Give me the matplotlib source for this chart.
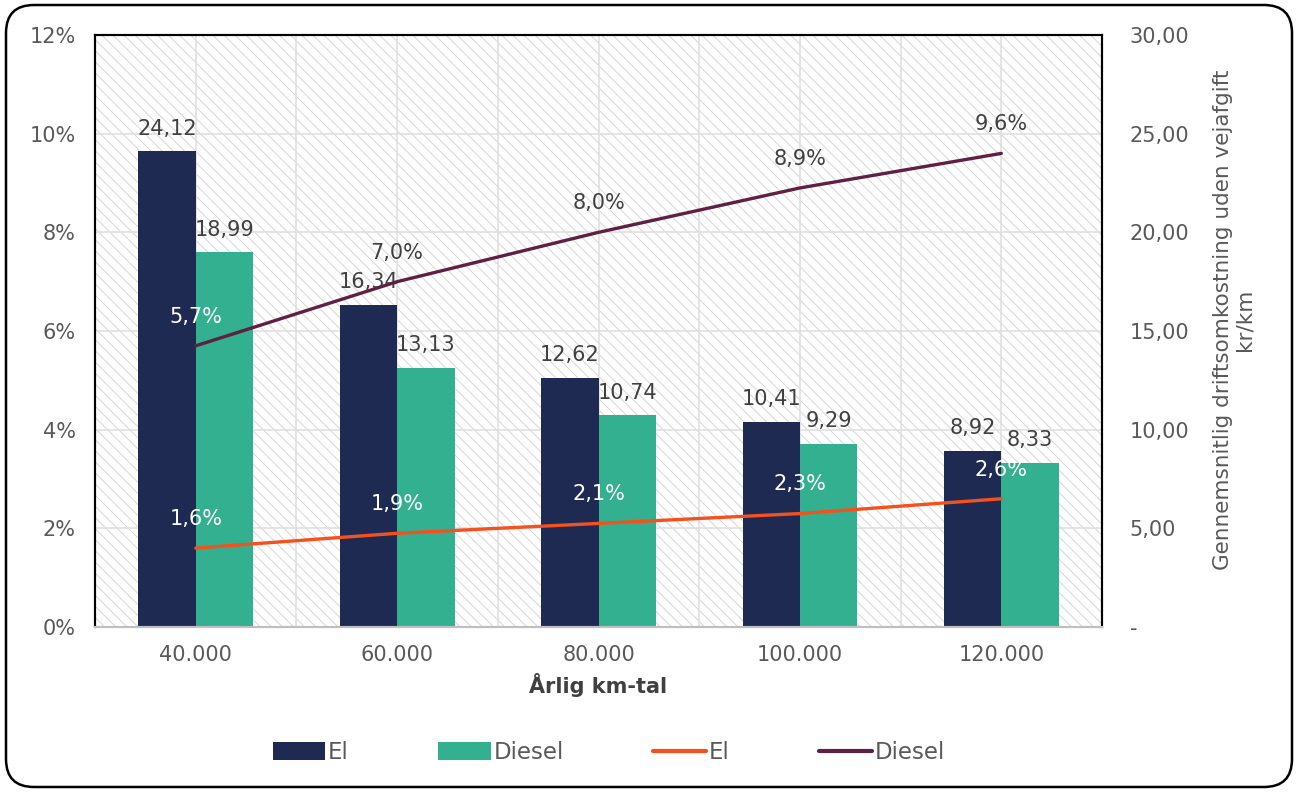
import numpy as np
import matplotlib.pyplot as plt
from matplotlib.patches import Rectangle, FancyBboxPatch, Patch
from matplotlib.lines import Line2D

# data
km = ['40.000', '60.000', '80.000', '100.000', '120.000']
cost_el = [24.12, 16.34, 12.62, 10.41, 8.92]
cost_diesel = [18.99, 13.13, 10.74, 9.29, 8.33]
share_el = [1.6, 1.9, 2.1, 2.3, 2.6]
share_diesel = [5.7, 7.0, 8.0, 8.9, 9.6]
pct_ticks = [0, 2, 4, 6, 8, 10, 12]
kr_ticks = [0, 5, 10, 15, 20, 25, 30]

C_EL = '#1e2a52'
C_DI = '#33b08f'
C_LEL = '#f4511e'
C_LDI = '#5e2142'
TXT = '#404040'
TICK = '#595959'
GRID = '#e0e0e0'

plt.rcParams['hatch.color'] = '#d6d6d6'
plt.rcParams['hatch.linewidth'] = 0.7

fig = plt.figure(figsize=(12.98, 7.92), dpi=100, facecolor='white')
ax = fig.add_axes([0.0732, 0.2083, 0.7758, 0.7475])   # bars, kr/km (right)
ax2 = ax.twinx()                                       # lines, % (left)

x = np.arange(len(km))
w = 0.285

# hatched background
ax.add_patch(Rectangle((0, 0), 1, 1, transform=ax.transAxes, facecolor='white',
                       edgecolor='#d6d6d6', hatch='\\\\\\', lw=0, zorder=0))
for xv in np.arange(-0.5, 5.0, 0.5):
    ax.axvline(xv, color=GRID, lw=1.2, zorder=0.5)
for yv in kr_ticks[1:]:
    ax.axhline(yv, color=GRID, lw=1.2, zorder=0.5)

b1 = ax.bar(x - w / 2, cost_el, w, color=C_EL, zorder=2)
b2 = ax.bar(x + w / 2, cost_diesel, w, color=C_DI, zorder=2)
for bars, vals in [(b1, cost_el), (b2, cost_diesel)]:
    for r, v in zip(bars, vals):
        ax.annotate(f'{v:.2f}'.replace('.', ','),
                    (r.get_x() + r.get_width() / 2, v),
                    xytext=(0, 9), textcoords='offset points',
                    ha='center', va='bottom', fontsize=15, color=TXT)

ax.set_xlim(-0.5, 4.5)
ax.set_ylim(0, 30)
ax.set_yticks(kr_ticks)
ax.set_yticklabels(['-'] + [f'{v},00' for v in kr_ticks[1:]])
ax.yaxis.tick_right()
ax.set_xticks(x)
ax.set_xticklabels(km)
ax.tick_params(axis='both', length=0, labelsize=15, labelcolor=TICK)
ax.tick_params(axis='x', pad=13)
ax.tick_params(axis='y', pad=20)
ax.set_xlabel('Årlig km-tal', fontsize=15, fontweight='bold', color=TXT, labelpad=6)

# lines
ax2.plot(x, share_el, color=C_LEL, lw=2.4, solid_capstyle='round', zorder=3)
ax2.plot(x, share_diesel, color=C_LDI, lw=2.4, solid_capstyle='round', zorder=3)
for vals, col_fn in [(share_el, lambda i: 'white'),
                     (share_diesel, lambda i: 'white' if i == 0 else TXT)]:
    for i, v in enumerate(vals):
        ax2.annotate(f'{v:.1f}%'.replace('.', ','), (x[i], v),
                     xytext=(0, 21), textcoords='offset points',
                     ha='center', va='center', fontsize=15, color=col_fn(i))
ax2.set_ylim(0, 12)
ax2.set_yticks(pct_ticks)
ax2.set_yticklabels([f'{v}%' for v in pct_ticks])
ax2.yaxis.tick_left()
ax2.tick_params(axis='y', length=0, labelsize=15, labelcolor=TICK, pad=14)

for a in (ax, ax2):
    for s in ['left', 'top', 'right']:
        a.spines[s].set_color('black')
        a.spines[s].set_linewidth(1.5)
    a.spines['bottom'].set_color('#bfbfbf')
    a.spines['bottom'].set_linewidth(1.5)

fig.text(0.9505, 0.596, 'Gennemsnitlig driftsomkostning uden vejafgift\nkr/km',
         rotation=90, ha='center', va='center', multialignment='center',
         fontsize=15.5, color=TICK, linespacing=1.15)

handles = [Patch(facecolor=C_EL, label='El'),
           Patch(facecolor=C_DI, label='Diesel'),
           Line2D([], [], color=C_LEL, lw=3, solid_capstyle='round', label='El'),
           Line2D([], [], color=C_LDI, lw=3, solid_capstyle='round', label='Diesel')]
fig.legend(handles=handles, loc='center', bbox_to_anchor=(0.469, 0.05), ncol=4,
           frameon=False, fontsize=16.5, labelcolor=TICK, columnspacing=3.9,
           handlelength=2.3, handleheight=0.8, handletextpad=0.12)

# rounded outer border
fig.patches.append(FancyBboxPatch((0.06, 0.05), 12.86, 7.82,
                                  boxstyle='round,pad=0,rounding_size=0.28',
                                  transform=fig.dpi_scale_trans, facecolor='none',
                                  edgecolor='black', lw=1.8))

fig.savefig('out.png', dpi=100)
